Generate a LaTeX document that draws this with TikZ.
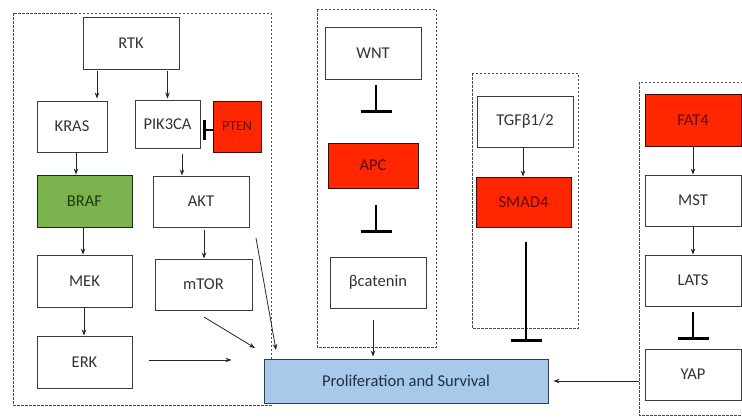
\documentclass[tikz,border=0pt]{standalone}
\usepackage{fontspec}
\setmainfont{Carlito}
\usetikzlibrary{arrows.meta}
\definecolor{edgegray}{HTML}{3C3C3C}
\definecolor{txtgray}{HTML}{333333}
\definecolor{dashgray}{HTML}{4A4A4A}
\definecolor{mutred}{HTML}{FF2600}
\definecolor{mutredtxt}{HTML}{5E0C0C}
\definecolor{brafgreen}{HTML}{7AB24E}
\definecolor{brafgreentxt}{HTML}{1E3A12}
\definecolor{outblue}{HTML}{A9C9EA}
\definecolor{outbluetxt}{HTML}{1F2F44}
\definecolor{outblueedge}{HTML}{2F3F55}
\tikzset{
  gene/.style={draw=edgegray, line width=0.9pt, fill=white, text=txtgray,
    rectangle, inner sep=0pt, font=\fontsize{16.5}{18}\selectfont},
  mutant/.style={gene, fill=mutred, draw=mutredtxt!70!black, text=mutredtxt},
  oncogene/.style={gene, fill=brafgreen, draw=brafgreentxt!80!black, text=brafgreentxt},
  outcome/.style={gene, fill=outblue, draw=outblueedge, text=outbluetxt},
  act/.style={draw=black!85, line width=0.8pt, -{Stealth[length=6pt,width=4.5pt]}},
  inh/.style={draw=black, line width=2.4pt},
  pathway/.style={draw=dashgray, line width=0.9pt, dash pattern=on 2.5pt off 1.5pt},
}
\newcommand{\genebox}[6]{% style, name, cx, cy, width, height, label follows
  \node[#1, minimum width=#5pt, minimum height=#6pt] (#2) at (#3,#4)}
\begin{document}
\begin{tikzpicture}[x=1pt, y=-1pt]
\useasboundingbox (0,0) rectangle (742,416);

% pathway frames
\draw[pathway] (13,13) rectangle (271,405);
\draw[pathway] (317,9) rectangle (436,347);
\draw[pathway] (472,73) rectangle (578,328);
\draw[pathway] (639,82) rectangle (760,415);

% RTK / MAPK / PI3K branch
\genebox{gene}{rtk}{131}{43}{96}{52} {RTK};
\genebox{gene}{kras}{72}{126.5}{70}{51} {KRAS};
\genebox{gene}{pik}{167.5}{124}{65}{48} {PIK3CA};
\genebox{mutant}{pten}{237}{126.5}{48}{51} {\fontsize{14}{16}\selectfont PTEN};
\genebox{oncogene}{braf}{84.5}{201}{95}{52} {BRAF};
\genebox{gene}{akt}{201}{201.5}{96}{51} {AKT};
\genebox{gene}{mek}{84.5}{281}{95}{52} {MEK};
\genebox{gene}{mtor}{203.5}{284.5}{97}{51} {mTOR};
\genebox{gene}{erk}{84.5}{362}{95}{52} {ERK};

% WNT branch
\genebox{gene}{wnt}{373}{53}{96}{52} {WNT};
\genebox{mutant}{apc}{373}{165.5}{90}{45} {APC};
\genebox{gene}{bcat}{378}{282.5}{96}{51} {βcatenin};

% TGF-beta branch
\genebox{gene}{tgf}{525}{121.5}{96}{51} {TGFβ1/2};
\genebox{mutant}{smad}{523.5}{202}{95}{50} {SMAD4};

% Hippo branch
\genebox{mutant}{fat}{693}{120}{96}{52} {FAT4};
\genebox{gene}{mst}{693}{200.5}{96}{51} {MST};
\genebox{gene}{lats}{693}{280.5}{96}{51} {LATS};
\genebox{gene}{yap}{693}{374.5}{96}{51} {YAP};

% common outcome
\genebox{outcome}{prolif}{406}{381}{284}{44} {Proliferation and Survival};

% activations
\draw[act, shorten <=2pt, shorten >=2pt] ([xshift=-34pt]rtk.south) -- ([xshift=-34pt]rtk.south |- kras.north);
\draw[act, shorten <=2pt, shorten >=1pt] (rtk.south -| pik.north) -- (pik.north);
\draw[act] ([xshift=4pt]kras.south) -- ([xshift=4pt]kras.south |- braf.north);
\draw[act, shorten <=6pt] ([xshift=14.5pt]pik.south) -- ([xshift=14.5pt]pik.south |- akt.north);
\draw[act] ([xshift=-1.5pt]braf.south) -- ([xshift=-1.5pt]braf.south |- mek.north);
\draw[act] ([xshift=-0.5pt]mek.south) -- ([xshift=-0.5pt]mek.south |- erk.north);
\draw[act, shorten <=3pt] ([xshift=3pt]akt.south) -- ([xshift=3pt]akt.south |- mtor.north);
\draw[act] (tgf.south -| 523,0) -- (smad.north -| 523,0);
\draw[act] (fat.south) -- (mst.north);
\draw[act] (mst.south) -- (lats.north);

\coordinate (mtorout) at (204,317);
\coordinate (mtorin) at (255,348);
\draw[act] (mtorout) -- (mtorin);
\coordinate (aktout) at (256,238);
\coordinate (aktin) at (276,350);
\draw[act] (aktout) -- (aktin);
\draw[act, shorten <=17pt, shorten >=32pt] ([yshift=2pt]erk.east) -- ([yshift=2pt]erk.east -| prolif.west);
\draw[act, shorten <=12pt, shorten >=2pt] ([xshift=-5pt]bcat.south) -- ([xshift=-5pt]bcat.south |- prolif.north);
\draw[act, shorten <=6pt, shorten >=5pt] (yap.west |- prolif.east) -- (prolif.east);

% inhibitions
\draw[inh, -{Bar[width=31pt, line width=2.4pt]}, shorten <=6pt, shorten >=30pt] ([xshift=3pt]wnt.south) -- ([xshift=3pt]wnt.south |- apc.north);
\draw[inh, -{Bar[width=31pt, line width=2.4pt]}, shorten <=17pt, shorten >=24pt] ([xshift=3pt]apc.south) -- ([xshift=3pt]apc.south |- bcat.north);
\draw[inh, -{Bar[width=31pt, line width=2.4pt]}, shorten <=15pt, shorten >=17pt] ([xshift=2.5pt]smad.south) -- ([xshift=2.5pt]smad.south |- prolif.north);
\draw[inh, -{Bar[width=31pt, line width=2.4pt]}, shorten <=6pt, shorten >=9pt] (lats.south) -- (yap.north);
\draw[inh, -{Bar[width=20pt, line width=2.4pt]}, shorten >=3pt] ([yshift=-3.5pt]pten.west) -- ([yshift=-3.5pt]pten.west -| pik.east);
\end{tikzpicture}
\end{document}
